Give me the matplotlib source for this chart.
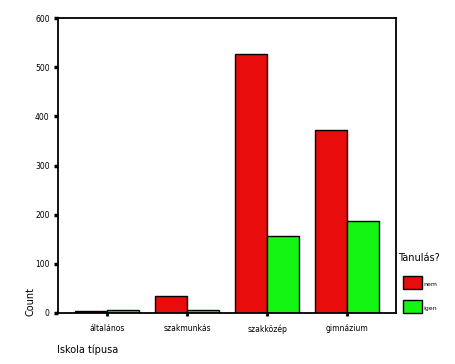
import matplotlib
matplotlib.use("Agg")
import matplotlib.pyplot as plt
import numpy as np
from matplotlib.patches import Rectangle

categories = ["általános", "szakmunkás", "szakközép", "gimnázium"]
nem = [4, 35, 527, 372]
igen = [6, 6, 157, 187]
series_labels = ["nem", "igen"]
legend_title = "Tanulás?"
yticks = [0, 100, 200, 300, 400, 500, 600]

red = "#E80C0C"
green = "#14F514"

fig = plt.figure(figsize=(4.55, 3.64), dpi=100)
ax = fig.add_axes([58/455, 1-313/364, 338/455, 295/364])
x = np.arange(len(categories))
w = 0.4
ax.bar(x - w/2, nem, width=w, color=red, edgecolor="black", linewidth=1.0)
ax.bar(x + w/2, igen, width=w, color=green, edgecolor="black", linewidth=1.0)
ax.set_xlim(-0.6125, 3.61)
ax.set_ylim(0, 600)
ax.set_yticks(yticks)
ax.set_yticklabels([str(v) for v in yticks], fontsize=5.5)
ax.set_xticks(x)
ax.set_xticklabels(categories, fontsize=5.5)
ax.tick_params(axis="y", direction="out", length=3, width=2.5, pad=3)
ax.tick_params(axis="x", direction="out", length=2, width=2, pad=6)
for s in ax.spines.values():
    s.set_linewidth(1.3)

fig.text(30/455, 1-302/364, "Count", rotation=90, fontsize=7, ha="center", va="center")
fig.text(57/455, 1-350/364, "Iskola típusa", fontsize=7, ha="left", va="center")

# legend
fig.text(398/455, 1-258/364, legend_title, fontsize=7, ha="left", va="center")
for i, (lab, col) in enumerate(zip(series_labels, [red, green])):
    y0 = 1 - (289 + i*24)/364
    fig.patches.append(Rectangle((403/455, y0), 19/455, 13/364, transform=fig.transFigure,
                                 facecolor=col, edgecolor="black", linewidth=1.0))
    fig.text(423/455, y0 + 2/364, lab, fontsize=4.5, ha="left", va="bottom")

fig.savefig("out.png", dpi=100)
